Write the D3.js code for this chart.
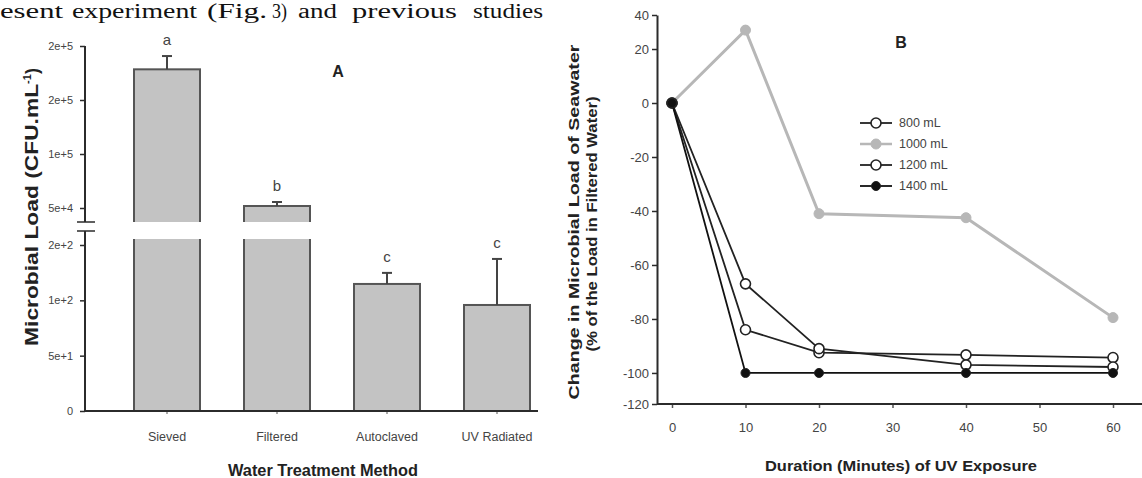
<!DOCTYPE html>
<html>
<head>
<meta charset="utf-8">
<script src="https://cdn.jsdelivr.net/npm/d3@7"></script>
<style>
  body { margin: 0; background: #fff; }
  svg { display: block; }
  text { font-family: "Liberation Sans", Arial, sans-serif; }
</style>
</head>
<body>
<div class="figure"></div>
<script>
// ---- data: panel A (bar chart, broken y axis) ----
var methods = ["Sieved", "Filtered", "Autoclaved", "UV Radiated"];
var loads = [178400, 51850, 114.8, 95.8];
var loadErrors = [12300, 3700, 10, 41.6];
var letters = ["a", "b", "c", "c"];
var lowTicks = [0, 50, 100, 150];
var lowTickLabels = ["0", "5e+1", "1e+2", "2e+2"];
var highTicks = [50000, 100000, 150000, 200000];
var highTickLabels = ["5e+4", "1e+5", "2e+5", "2e+5"];

// ---- data: panel B (line chart) ----
var minutes = [0, 10, 20, 40, 60];
var vol800 = [0, -84, -92.5, -93.3, -94.3];
var vol1000 = [0, 27, -41, -42.5, -79.5];
var vol1200 = [0, -67, -91, -97, -97.8];
var vol1400 = [0, -100, -100, -100, -100];
var seriesNames = ["800 mL", "1000 mL", "1200 mL", "1400 mL"];
var xTicks = [0, 10, 20, 30, 40, 50, 60];
var yTicks = [-111.5, -100, -80, -60, -40, -20, 0, 20, 32.6];
var yTickLabels = ["-120", "-100", "-80", "-60", "-40", "-20", "0", "20", "40"];

// ---- text above the figures ----
var lineWords = ["esent", "experiment", "(Fig.", "3)", "and", "previous", "studies"];

var svgWidth = 1142;
var svgHeight = 478;
var ink = "#2b2b2b";
var softInk = "#444";

var svg = d3.select(".figure")
            .append("svg")
            .attr("width", svgWidth)
            .attr("height", svgHeight);

// body text line at the top of the page
var wordX = [0, 72, 207, 272, 298, 352, 473];
var wordW = [63, 125, 60, 15, 39, 105, 70];
svg.append("g").selectAll("text")
   .data(lineWords)
   .enter()
   .append("text")
   .attr("x", (d, i) => wordX[i])
   .attr("y", 18)
   .attr("textLength", (d, i) => wordW[i])
   .attr("lengthAdjust", "spacingAndGlyphs")
   .style("font-family", "'Liberation Serif', 'Times New Roman', serif")
   .style("font-size", "20px")
   .attr("fill", "#111")
   .text(d => d);

// =========== Panel A ===========
var a = svg.append("g");
var axisX = 85;
var breakTop = 222, breakBottom = 231;

var xBand = d3.scaleBand()
              .domain(methods)
              .range([134, 530])
              .paddingInner(0.4)
              .paddingOuter(0);
var yLow = d3.scaleLinear().domain([0, 150]).range([411, 245]);
var yHigh = d3.scaleLinear().domain([50000, 200000]).range([208, 46]);

function yLoad(v) {
    return v >= 1000 ? yHigh(v) : yLow(v);
}

// bars
a.selectAll("rect.bar")
 .data(loads)
 .enter()
 .append("rect")
 .attr("class", "bar")
 .attr("x", (d, i) => xBand(methods[i]))
 .attr("width", xBand.bandwidth())
 .attr("y", d => yLoad(d))
 .attr("height", d => yLow(0) - yLoad(d))
 .attr("fill", "#c3c3c3")
 .attr("stroke", "#555")
 .attr("stroke-width", 2);

// white gap where the axis is broken
a.append("rect")
 .attr("x", axisX + 2)
 .attr("y", breakTop)
 .attr("width", 460)
 .attr("height", 239 - breakTop)
 .attr("fill", "#fff");

// error bars (upper only)
var errs = a.selectAll("g.err")
            .data(loads)
            .enter()
            .append("g")
            .attr("class", "err")
            .attr("transform", (d, i) => `translate(${xBand(methods[i]) + xBand.bandwidth() / 2},0)`);
errs.append("line")
    .attr("y1", d => yLoad(d))
    .attr("y2", (d, i) => yLoad(d + loadErrors[i]))
    .attr("stroke", "#444")
    .attr("stroke-width", 2);
errs.append("line")
    .attr("x1", -5).attr("x2", 5)
    .attr("y1", (d, i) => yLoad(d + loadErrors[i]))
    .attr("y2", (d, i) => yLoad(d + loadErrors[i]))
    .attr("stroke", "#444")
    .attr("stroke-width", 2);
errs.append("text")
    .attr("y", (d, i) => yLoad(d + loadErrors[i]) - 11)
    .attr("text-anchor", "middle")
    .style("font-size", "15px")
    .attr("fill", softInk)
    .text((d, i) => letters[i]);

// y axis: two segments
var lowAxis = d3.axisLeft(yLow).tickValues(lowTicks)
                .tickFormat((d, i) => lowTickLabels[i]).tickSizeOuter(0).tickSize(5);
var highAxis = d3.axisLeft(yHigh).tickValues(highTicks)
                 .tickFormat((d, i) => highTickLabels[i]).tickSizeOuter(0).tickSize(5);
var gLow = a.append("g").attr("transform", `translate(${axisX},0)`).call(lowAxis);
var gHigh = a.append("g").attr("transform", `translate(${axisX},0)`).call(highAxis);
[gLow, gHigh].forEach(function(g) {
    g.select(".domain").remove();
    g.selectAll("line").attr("stroke", ink).attr("stroke-width", 1.5);
    g.selectAll("text").style("font-size", "11px").attr("fill", softInk).attr("x", -12);
});
a.append("line").attr("x1", axisX).attr("x2", axisX)
 .attr("y1", yHigh(200000)).attr("y2", breakTop)
 .attr("stroke", ink).attr("stroke-width", 2);
a.append("line").attr("x1", axisX).attr("x2", axisX)
 .attr("y1", breakBottom).attr("y2", yLow(0))
 .attr("stroke", ink).attr("stroke-width", 2);
[breakTop, breakBottom].forEach(function(y) {
    a.append("line").attr("x1", axisX - 8).attr("x2", axisX + 10)
     .attr("y1", y).attr("y2", y)
     .attr("stroke", ink).attr("stroke-width", 1.5);
});

// x axis
var bottomAxis = d3.axisBottom(xBand).tickSize(3).tickSizeOuter(0);
var gx = a.append("g").attr("transform", `translate(0,${yLow(0)})`).call(bottomAxis);
gx.select(".domain").remove();
gx.selectAll("line").attr("stroke", "#555");
gx.selectAll("text").style("font-size", "12.5px").attr("fill", softInk).attr("y", 21);
a.append("line").attr("x1", axisX).attr("x2", 538)
 .attr("y1", yLow(0)).attr("y2", yLow(0))
 .attr("stroke", ink).attr("stroke-width", 2);

// titles
a.append("text")
 .attr("x", 323).attr("y", 476)
 .attr("text-anchor", "middle")
 .style("font-size", "16px").style("font-weight", "bold")
 .attr("textLength", 190).attr("lengthAdjust", "spacingAndGlyphs")
 .attr("fill", "#222")
 .text("Water Treatment Method");
var yTitleA = a.append("text")
 .attr("transform", "translate(38,207) rotate(-90)")
 .attr("text-anchor", "middle")
 .style("font-size", "18px").style("font-weight", "bold")
 .attr("fill", "#222");
yTitleA.append("tspan")
       .attr("textLength", 262).attr("lengthAdjust", "spacingAndGlyphs")
       .text("Microbial Load (CFU.mL");
yTitleA.append("tspan").attr("dy", -7).style("font-size", "11px").text("-1");
yTitleA.append("tspan").attr("dy", 7).text(")");
a.append("text")
 .attr("x", 338).attr("y", 77)
 .attr("text-anchor", "middle")
 .style("font-size", "16px").style("font-weight", "bold")
 .attr("fill", "#222")
 .text("A");

// =========== Panel B ===========
var b = svg.append("g");
var xScale = d3.scaleLinear().domain([0, 60]).range([672, 1113]);
var yScale = d3.scaleLinear().domain([-111.5, 32.6]).range([404, 15]);
var x0 = 657;

var leftAxis = d3.axisLeft(yScale).tickValues(yTicks)
                 .tickFormat((d, i) => yTickLabels[i]).tickSize(5).tickSizeOuter(0);
var gy = b.append("g").attr("transform", `translate(${x0},0)`).call(leftAxis);
gy.select(".domain").attr("stroke", ink).attr("stroke-width", 2);
gy.selectAll("line").attr("stroke", ink).attr("stroke-width", 1.5);
gy.selectAll("text").style("font-size", "13px").attr("fill", softInk).attr("x", -8);

var xAxisB = d3.axisBottom(xScale).tickValues(xTicks).tickSize(4).tickSizeOuter(0);
var gxb = b.append("g").attr("transform", `translate(0,${yScale(-111.5)})`).call(xAxisB);
gxb.select(".domain").remove();
gxb.selectAll("line").attr("stroke", "#555").attr("stroke-width", 1.5);
gxb.selectAll("text").style("font-size", "13px").attr("fill", softInk).attr("y", 19);
b.append("line").attr("x1", x0).attr("x2", svgWidth)
 .attr("y1", yScale(-111.5)).attr("y2", yScale(-111.5))
 .attr("stroke", ink).attr("stroke-width", 2);

var series = [
    { name: seriesNames[1], values: vol1000, color: "#b7b7b7", width: 3, marker: "gray" },
    { name: seriesNames[0], values: vol800, color: "#222", width: 1.8, marker: "open" },
    { name: seriesNames[2], values: vol1200, color: "#222", width: 1.8, marker: "open" },
    { name: seriesNames[3], values: vol1400, color: "#111", width: 1.8, marker: "black" }
];

var line = d3.line()
             .x((d, i) => xScale(minutes[i]))
             .y(d => yScale(d));

function drawMarker(sel, kind) {
    sel.attr("r", kind === "black" ? 4.5 : 5)
       .attr("fill", kind === "open" ? "#fff" : (kind === "gray" ? "#b7b7b7" : "#111"))
       .attr("stroke", kind === "gray" ? "#b7b7b7" : "#222")
       .attr("stroke-width", kind === "open" ? 1.6 : 1);
}

series.forEach(function(s) {
    var g = b.append("g");
    g.append("path")
     .datum(s.values)
     .attr("d", line)
     .attr("fill", "none")
     .attr("stroke", s.color)
     .attr("stroke-width", s.width);
    g.selectAll("circle")
     .data(s.values)
     .enter()
     .append("circle")
     .attr("cx", (d, i) => xScale(minutes[i]))
     .attr("cy", d => yScale(d))
     .call(drawMarker, s.marker);
});

// legend, in original order
var legendOrder = [series[1], series[0], series[2], series[3]];
var legend = b.append("g").attr("transform", "translate(860,123)");
var rows = legend.selectAll("g")
                 .data(legendOrder)
                 .enter()
                 .append("g")
                 .attr("transform", (d, i) => `translate(0,${i * 21})`);
rows.append("line")
    .attr("x1", 0).attr("x2", 32)
    .attr("stroke", d => d.color)
    .attr("stroke-width", d => d.width === 3 ? 2.5 : 1.8);
rows.append("circle")
    .attr("cx", 16).attr("cy", 0)
    .each(function(d) { d3.select(this).call(drawMarker, d.marker); });
rows.append("text")
    .attr("x", 39).attr("dy", "0.35em")
    .style("font-size", "12.5px")
    .attr("fill", softInk)
    .text(d => d.name);

// titles
b.append("text")
 .attr("x", 901).attr("y", 471)
 .attr("text-anchor", "middle")
 .style("font-size", "15px").style("font-weight", "bold")
 .attr("textLength", 272).attr("lengthAdjust", "spacingAndGlyphs")
 .attr("fill", "#222")
 .text("Duration (Minutes) of UV Exposure");
b.append("text")
 .attr("transform", "translate(579,222) rotate(-90)")
 .attr("text-anchor", "middle")
 .style("font-size", "15px").style("font-weight", "bold")
 .attr("textLength", 355).attr("lengthAdjust", "spacingAndGlyphs")
 .attr("fill", "#222")
 .text("Change in Microbial Load of Seawater");
b.append("text")
 .attr("transform", "translate(597,224) rotate(-90)")
 .attr("text-anchor", "middle")
 .style("font-size", "15px").style("font-weight", "bold")
 .attr("textLength", 255).attr("lengthAdjust", "spacingAndGlyphs")
 .attr("fill", "#222")
 .text("(% of the Load in Filtered Water)");
b.append("text")
 .attr("x", 901).attr("y", 48)
 .attr("text-anchor", "middle")
 .style("font-size", "16px").style("font-weight", "bold")
 .attr("fill", "#222")
 .text("B");
</script>
</body>
</html>
